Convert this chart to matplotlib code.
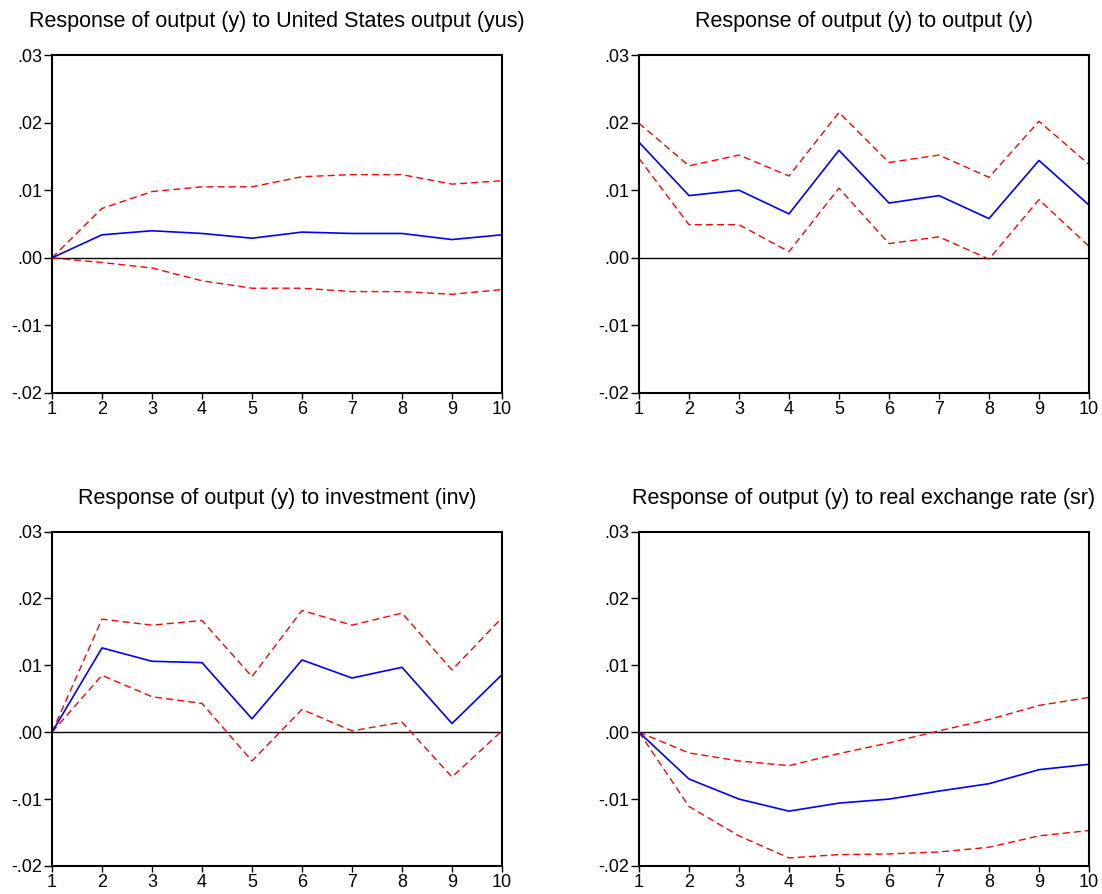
import numpy as np
import matplotlib.pyplot as plt
from matplotlib.ticker import FixedLocator

plt.rcParams['font.family'] = ['Liberation Sans', 'DejaVu Sans']

steps = np.arange(1, 11)

# Response of y to yus
yus_resp = [0.0, 0.0034, 0.0040, 0.0036, 0.0029, 0.0038, 0.0036, 0.0036, 0.0027, 0.0034]
yus_up = [0.0, 0.0073, 0.0098, 0.0105, 0.0105, 0.0120, 0.0123, 0.0123, 0.0109, 0.0114]
yus_lo = [0.0, -0.0007, -0.0015, -0.0034, -0.0045, -0.0045, -0.0050, -0.0050, -0.0054, -0.0047]

# Response of y to y
y_resp = [0.0171, 0.0092, 0.0100, 0.0065, 0.0159, 0.0081, 0.0092, 0.0058, 0.0144, 0.0078]
y_up = [0.0199, 0.0136, 0.0152, 0.0121, 0.0215, 0.0141, 0.0152, 0.0119, 0.0202, 0.0138]
y_lo = [0.0147, 0.0049, 0.0049, 0.0009, 0.0103, 0.0021, 0.0031, -0.0002, 0.0086, 0.0017]

# Response of y to inv
inv_resp = [0.0, 0.0126, 0.0106, 0.0104, 0.0020, 0.0108, 0.0081, 0.0097, 0.0013, 0.0086]
inv_up = [0.0, 0.0169, 0.0160, 0.0167, 0.0083, 0.0182, 0.0160, 0.0178, 0.0093, 0.0171]
inv_lo = [0.0, 0.0085, 0.0053, 0.0043, -0.0043, 0.0034, 0.0002, 0.0015, -0.0067, 0.0002]

# Response of y to sr
sr_resp = [0.0, -0.0070, -0.0100, -0.0118, -0.0106, -0.0100, -0.0088, -0.0077, -0.0056, -0.0048]
sr_up = [0.0, -0.0031, -0.0043, -0.0050, -0.0032, -0.0016, 0.0002, 0.0019, 0.0040, 0.0052]
sr_lo = [0.0, -0.0111, -0.0155, -0.0188, -0.0183, -0.0182, -0.0179, -0.0172, -0.0155, -0.0147]

titles = ["Response of output (y) to United States output (yus)",
          "Response of output (y) to output (y)",
          "Response of output (y) to investment (inv)",
          "Response of output (y) to real exchange rate (sr)"]
panels = [(yus_resp, yus_up, yus_lo), (y_resp, y_up, y_lo),
          (inv_resp, inv_up, inv_lo), (sr_resp, sr_up, sr_lo)]

yticks = [-0.02, -0.01, 0.0, 0.01, 0.02, 0.03]
ytick_labels = ["-.02", "-.01", ".00", ".01", ".02", ".03"]

W, H = 1102, 894
# axes boxes in pixels: left, top, right, bottom
boxes = [(52, 55, 502, 393), (639, 55, 1089, 393),
         (52, 531.5, 502, 866), (639, 531.5, 1089, 866)]

fig = plt.figure(figsize=(W / 100, H / 100), dpi=100)

for (l, t, r, b), title, (resp, up, lo) in zip(boxes, titles, panels):
    ax = fig.add_axes([l / W, 1 - b / H, (r - l) / W, (b - t) / H])
    ax.axhline(0, color='black', lw=1.0)
    ax.plot(steps, up, color='red', lw=1.0, dashes=(5, 3))
    ax.plot(steps, lo, color='red', lw=1.0, dashes=(5, 3))
    ax.plot(steps, resp, color='blue', lw=1.2)
    ax.set_xlim(1, 10)
    ax.set_ylim(-0.02, 0.03)
    ax.xaxis.set_major_locator(FixedLocator(steps))
    ax.set_yticks(yticks)
    ax.set_yticklabels(ytick_labels)
    ax.tick_params(axis='y', direction='out', length=6, width=1, pad=1, labelsize=13)
    ax.tick_params(axis='x', direction='out', length=4, width=1, pad=2, labelsize=13)
    for s in ax.spines.values():
        s.set_linewidth(1.5)
    ax.set_title(title, fontsize=15.5, pad=20)

fig.savefig("out.png", dpi=100)
